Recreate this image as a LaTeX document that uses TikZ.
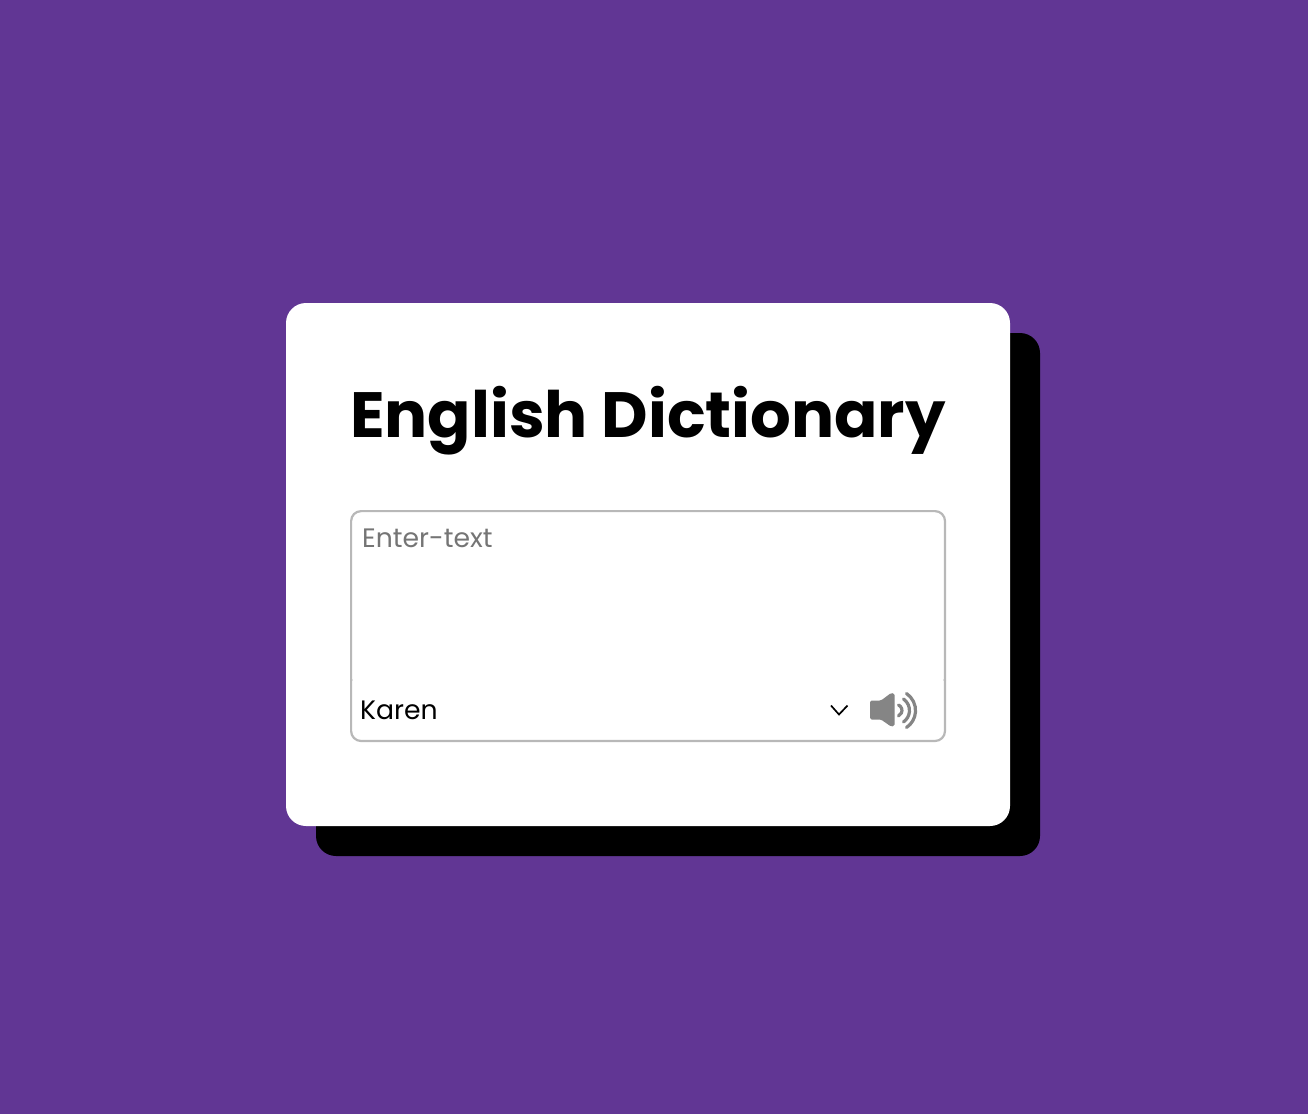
\documentclass[tikz,border=0pt]{standalone}
\usepackage{fontspec}
\setmainfont{Poppins}
\definecolor{bgpurple}{HTML}{613694}
\definecolor{fieldline}{HTML}{B8B8B8}
\definecolor{placeholder}{HTML}{757575}
\definecolor{icongray}{HTML}{858585}
\tikzset{
  card/.style={rounded corners=20pt},
  fieldborder/.style={draw=fieldline,line width=2.2pt,rounded corners=10pt},
  iconarc/.style={draw=icongray,line width=3.2pt,line cap=round},
}
\begin{document}
\begin{tikzpicture}[x=1pt,y=-1pt]
\useasboundingbox (0,0) rectangle (1308,1114);
\fill[bgpurple] (0,0) rectangle (1308,1114);
\fill[black,card] (316,333) rectangle (1040,856);
\fill[white,card] (286,303) rectangle (1010,826);
\node[anchor=base west,inner sep=0pt,font={\fontsize{64}{70}\bfseries\selectfont}] (title) at (350,437) {English Dictionary};
\draw[fieldborder] (351.1,680) -- (351.1,511.1) -- (945,511.1) -- (945,680);
\draw[fieldborder] (351.1,680) -- (351.1,741) -- (945,741) -- (945,680);
\fill[fieldline!45] (352.2,678.5) rectangle (353.2,680.5);
\fill[fieldline!45] (942.9,678.5) rectangle (943.9,680.5);
\node[anchor=base west,inner sep=0pt,text=placeholder,font={\fontsize{26.67}{32}\selectfont}] (placeholdertext) at (362,547) {Enter-text};
\node[anchor=base west,inner sep=0pt,font={\fontsize{26.67}{32}\selectfont}] (voice) at (360,719) {Karen};
\draw[black,line width=1.7pt] (831,705.5) -- (839,714.5) -- (847.5,705.5);
\fill[icongray,rounded corners=1.5pt] (870,700.5) -- (881,700.5) -- (891,693) -- (894.5,693.5) -- (894.5,726) -- (891,726.5) -- (881,719.5) -- (870,719.5) -- cycle;
\draw[iconarc] (898.5,705) arc[start angle=-65,end angle=65,radius=6];
\draw[iconarc] (903.5,699) arc[start angle=-55,end angle=55,radius=14];
\draw[iconarc] (906.5,693.5) arc[start angle=-56,end angle=56,radius=20.5];
\end{tikzpicture}
\end{document}
